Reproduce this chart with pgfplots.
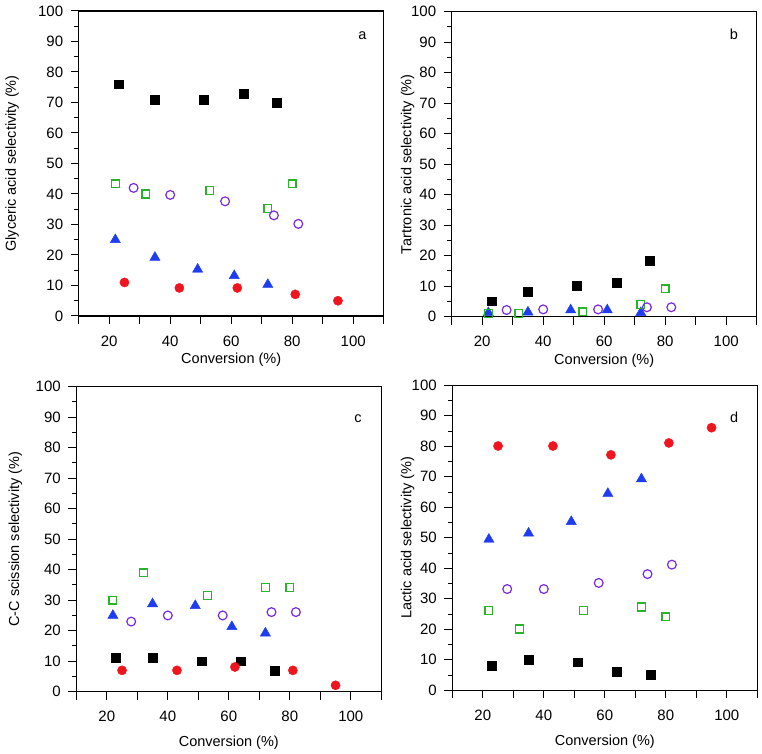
\documentclass[border=0pt]{standalone}
\usepackage{fontspec}
\setmainfont{Liberation Sans}
\usepackage{pgfplots}
\pgfplotsset{compat=1.18}
\definecolor{mgreen}{RGB}{40,180,40}
\definecolor{mpurple}{RGB}{120,40,225}
\definecolor{mblue}{RGB}{30,60,240}
\definecolor{mred}{RGB}{240,20,30}
\pgfplotsset{
  panel/.style={
    scale only axis, width=305pt, height=305pt,
    xmin=10, xmax=110, ymin=0, ymax=100,
    xtick={10,20,...,110}, xticklabels={,20,,40,,60,,80,,100,},
    ytick={0,10,...,100}, minor y tick num=1,
    tick align=outside, xtick pos=bottom, ytick pos=left,
    major tick length=8pt, minor tick length=4.5pt,
    every tick/.style={black, line width=1pt},
    axis line style={line width=1.1pt},
    font=\fontsize{14.5}{16}\selectfont,
    tick label style={font=\fontsize{15}{17}\selectfont},
    xticklabel style={yshift=-8pt},
    yticklabel style={xshift=-4pt},
    /pgf/number format/assume math mode=true,
    xlabel={Conversion (\%)},
    clip=false,
  },
  ylab/.style={every axis y label/.style={at={(axis description cs:-#1/305,0.5)}, rotate=90, anchor=center}},
  xlab/.style={every axis x label/.style={at={(axis description cs:0.5,-#1/305)}, anchor=center}},
  blk/.style={only marks, mark=square*, mark size=4.4pt, mark options={draw=black, fill=black, line width=0.4pt}},
  grn/.style={only marks, mark=square, mark size=3.9pt, mark options={draw=mgreen, line width=1.3pt}},
  pur/.style={only marks, mark=o, mark size=4.4pt, mark options={draw=mpurple, line width=1.2pt}},
  blu/.style={only marks, mark=triangle*, mark size=5.9pt, mark options={draw=mblue, fill=mblue, line width=0.4pt}},
  rd/.style={only marks, mark=*, mark size=4.6pt, mark options={draw=mred, fill=mred, line width=0.4pt}},
}
\begin{document}
\begin{tikzpicture}[x=1pt,y=1pt]
\useasboundingbox (0,0) rectangle (762,753);
% panel a
\begin{axis}[panel, at={(78.7pt,437pt)}, anchor=south west,
  ylabel={Glyceric acid selectivity (\%)}, ylab=66.7, xlab=44]
\addplot[blk] coordinates {(23,76) (35,71) (51,71) (64,73) (75,70)};
\addplot[grn] coordinates {(22,43.3) (32,40) (53,41.2) (72,35.2) (80,43.3)};
\addplot[pur] coordinates {(28,42) (40,39.7) (58,37.6) (74,33) (82,30.2)};
\addplot[blu] coordinates {(22,25) (35,19.2) (49,15.3) (61,13.2) (72,10.3)};
\addplot[rd] coordinates {(25,11) (43,9.2) (62,9.2) (81,7.1) (95,5)};
\node at (axis cs:103,92) {a};
\end{axis}
% panel b
\begin{axis}[panel, at={(451.7pt,436.3pt)}, anchor=south west,
  ylabel={Tartronic acid selectivity (\%)}, ylab=44, xlab=44]
\addplot[blk] coordinates {(23,5.1) (35,8.1) (51,10.2) (64,11.1) (75,18.3)};
\addplot[blu] coordinates {(22,1.3) (35,1.5) (49,2.2) (61,2.2) (72,1.3)};
\addplot[grn] coordinates {(22,1.1) (32,1.1) (53,1.6) (72,4) (80,9.1)};
\addplot[pur] coordinates {(28,2.2) (40,2.4) (58,2.4) (74,3.1) (82,3.1)};
\node at (axis cs:102.5,92.5) {b};
\end{axis}
% panel c
\begin{axis}[panel, at={(76.3pt,61.3pt)}, anchor=south west,
  ylabel={C-C scission selectivity (\%)}, ylab=61, xlab=51]
\addplot[grn] coordinates {(22,30) (32,39) (53,31.5) (72,34.1) (80,34.1)};
\addplot[pur] coordinates {(28,23) (40,25) (58,25) (74,26.1) (82,26.1)};
\addplot[blu] coordinates {(22,25) (35,28.8) (49,28.2) (61,21.3) (72,19.2)};
\addplot[blk] coordinates {(23,11.1) (35,11.1) (51,10) (64,10) (75,7)};
\addplot[rd] coordinates {(25,7) (43,7) (62,8.1) (81,7) (95,2.1)};
\node at (axis cs:102.4,89.6) {c};
\end{axis}
% panel d
\begin{axis}[panel, at={(452.3pt,62.7pt)}, anchor=south west,
  ylabel={Lactic acid selectivity (\%)}, ylab=44.6, xlab=51.4]
\addplot[rd] coordinates {(25,80.1) (43,80.1) (62,77.2) (81,81.1) (95,86.1)};
\addplot[blu] coordinates {(22,49.5) (35,51.5) (49,55.3) (61,64.5) (72,69.3)};
\addplot[pur] coordinates {(28,33.2) (40,33.2) (58,35.2) (74,38.1) (82,41.2)};
\addplot[grn] coordinates {(22,26.1) (32,20.1) (53,26.1) (72,27.3) (80,24.1)};
\addplot[blk] coordinates {(23,8.1) (35,10) (51,9.2) (64,6.1) (75,5.1)};
\node at (axis cs:102.4,89.6) {d};
\end{axis}
\end{tikzpicture}
\end{document}
